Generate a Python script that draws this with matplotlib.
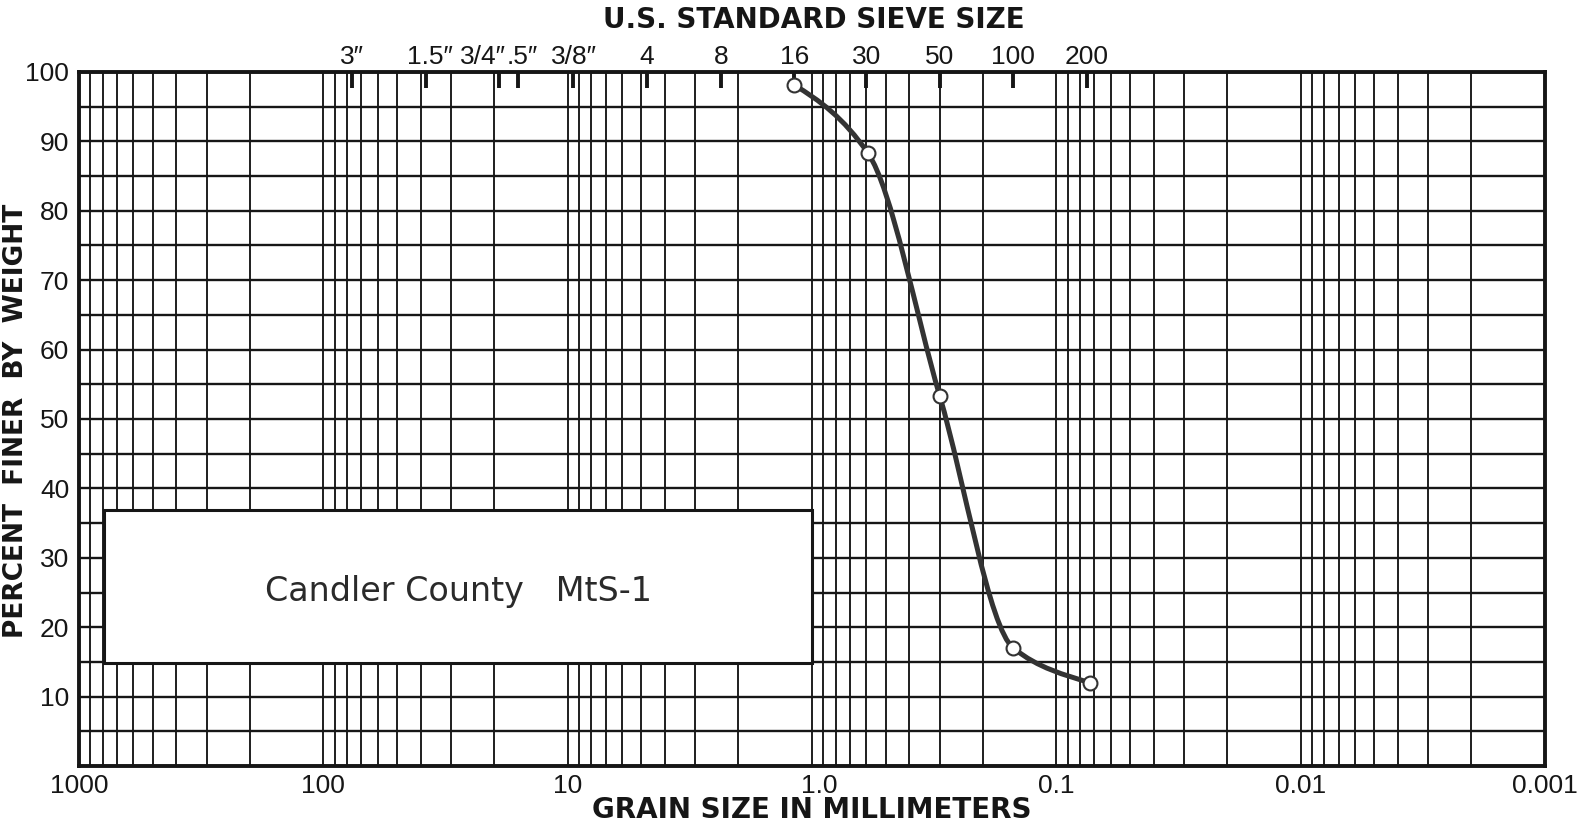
import numpy as np
import matplotlib
matplotlib.use("Agg")
import matplotlib.pyplot as plt
from matplotlib.path import Path
from matplotlib.patches import PathPatch, Rectangle
from matplotlib.ticker import FixedLocator, NullFormatter, LogLocator, MultipleLocator, FixedFormatter
from matplotlib.transforms import ScaledTranslation
from matplotlib import font_manager as fm

# ---------------- data ----------------
grain_mm = [1.18, 0.59, 0.30, 0.150, 0.073]
percent_finer = [98.1, 88.3, 53.3, 17.0, 12.0]

sieve_labels = ['3″', '1.5″', '3/4″', '.5″', '3/8″', '4', '8', '16', '30', '50', '100', '200']
sieve_mm = [76.2, 38.1, 19.05, 15.9, 9.525, 4.75, 2.36, 1.18, 0.60, 0.30, 0.15, 0.075]

x_tick_vals = [1000, 100, 10, 1, 0.1, 0.01, 0.001]
x_tick_labels = ['1000', '100', '10', '1.0', '0.1', '0.01', '0.001']
y_tick_vals = [10, 20, 30, 40, 50, 60, 70, 80, 90, 100]
y_tick_labels = [str(v) for v in y_tick_vals]

box_x = (788, 1.0)
box_y = (14.8, 36.9)
sample_label = 'Candler County   MtS-1'

title_top = 'U.S. STANDARD SIEVE SIZE'
x_title = 'GRAIN SIZE IN MILLIMETERS'
y_title = 'PERCENT  FINER  BY  WEIGHT'

# ---------------- fonts ----------------
names = {f.name for f in fm.fontManager.ttflist}
narrow = 'Liberation Sans Narrow' if 'Liberation Sans Narrow' in names else 'Liberation Sans'
plt.rcParams['font.family'] = [narrow, 'DejaVu Sans']

INK = '#161616'
CURVE = '#333333'

fig = plt.figure(figsize=(15.85, 8.30), dpi=100)
ax = fig.add_axes([79/1585, 1 - 766/830, (1545 - 79)/1585, (766 - 72)/830])

ax.set_xscale('log')
ax.set_xlim(1000, 0.001)
ax.set_ylim(0, 100)

ax.xaxis.set_major_locator(FixedLocator(x_tick_vals))
ax.xaxis.set_major_formatter(FixedFormatter(x_tick_labels))
ax.xaxis.set_minor_locator(LogLocator(base=10, subs=np.arange(2, 10)))
ax.xaxis.set_minor_formatter(NullFormatter())
ax.yaxis.set_major_locator(FixedLocator(y_tick_vals))
ax.yaxis.set_major_formatter(FixedFormatter(y_tick_labels))
ax.yaxis.set_minor_locator(MultipleLocator(5))

ax.tick_params(which='both', length=0)
ax.tick_params(axis='x', labelsize=19, pad=6, colors=INK)
ax.tick_params(axis='y', labelsize=19, pad=7, colors=INK)

ax.set_axisbelow(True)
ax.grid(True, which='both', axis='x', color=INK, linewidth=1.35)
ax.grid(True, which='both', axis='y', color=INK, linewidth=1.7)
for s in ax.spines.values():
    s.set_linewidth(2.8)
    s.set_color(INK)

# nudge the "1.0" label slightly right as in the original print
xt = ax.xaxis.get_major_ticks()
if len(xt) > 3:
    lbl = xt[3].label1
    lbl.set_transform(lbl.get_transform() + ScaledTranslation(5/72, 0, fig.dpi_scale_trans))

# sample box
ax.add_patch(Rectangle((box_x[1], box_y[0]), box_x[0] - box_x[1], box_y[1] - box_y[0],
                       facecolor='white', edgecolor=INK, linewidth=2.2, zorder=2))
ax.text(np.sqrt(box_x[0] * box_x[1]), (box_y[0] + box_y[1]) / 2 - 0.7, sample_label,
        ha='center', va='center', fontsize=24, color='#2a2a2a', zorder=3,
        family=['DejaVu Sans'])

# smooth monotone gradation curve (cubic Bezier in log-x space)
u = -np.log10(grain_mm)
py = np.array(percent_finer, dtype=float)
h = np.diff(u)
d = np.diff(py) / h
m = np.zeros_like(py)
for k in range(1, len(py) - 1):
    w1 = 2 * h[k] + h[k - 1]
    w2 = h[k] + 2 * h[k - 1]
    m[k] = (w1 + w2) / (w1 / d[k - 1] + w2 / d[k])
m[0] = 0.65 * d[0]
m[-1] = 0.7 * d[-1]
verts = [(grain_mm[0], py[0])]
codes = [Path.MOVETO]
for i in range(len(py) - 1):
    c1u, c1y = u[i] + h[i] / 3, py[i] + m[i] * h[i] / 3
    c2u, c2y = u[i + 1] - h[i] / 3, py[i + 1] - m[i + 1] * h[i] / 3
    verts += [(10 ** -c1u, c1y), (10 ** -c2u, c2y), (grain_mm[i + 1], py[i + 1])]
    codes += [Path.CURVE4] * 3
ax.add_patch(PathPatch(Path(verts, codes), facecolor='none', edgecolor=CURVE,
                       linewidth=3.6, zorder=4, capstyle='round'))
ax.plot(grain_mm, percent_finer, linestyle='none', marker='o', markersize=10,
        markerfacecolor='white', markeredgecolor=CURVE, markeredgewidth=1.5, zorder=5)

# sieve ticks on top
sec = ax.secondary_xaxis('top')
sec.set_xticks(sieve_mm)
sec.set_xticklabels([''] * len(sieve_mm))
sec.xaxis.set_minor_locator(FixedLocator([]))
sec.tick_params(direction='in', length=11.5, width=2.8, colors=INK)
sec.spines['top'].set_visible(False)

label_dx = [0, 3, -11.5, 2.5, 1, 0, 0, 0, 0, 0, 0, 0]
for lab, pos, dx in zip(sieve_labels, sieve_mm, label_dx):
    ax.annotate(lab, xy=(pos, 1.0), xycoords=ax.get_xaxis_transform(),
                xytext=(dx, 2.5), textcoords='offset points', ha='center', va='bottom',
                fontsize=19, color=INK)

fig.text(814/1585, 1 - 20/830, title_top, ha='center', va='center', fontsize=20,
         fontweight='bold', color=INK, family=['DejaVu Sans'])
fig.text(812/1585, 1 - 810/830, x_title, ha='center', va='center', fontsize=20,
         fontweight='bold', color=INK, family=['DejaVu Sans'])
fig.text(16/1585, 1 - 421/830, y_title, ha='center', va='center', rotation=90, fontsize=19,
         fontweight='bold', color=INK, family=['DejaVu Sans'])

fig.savefig('out.png', dpi=100, facecolor='white')
